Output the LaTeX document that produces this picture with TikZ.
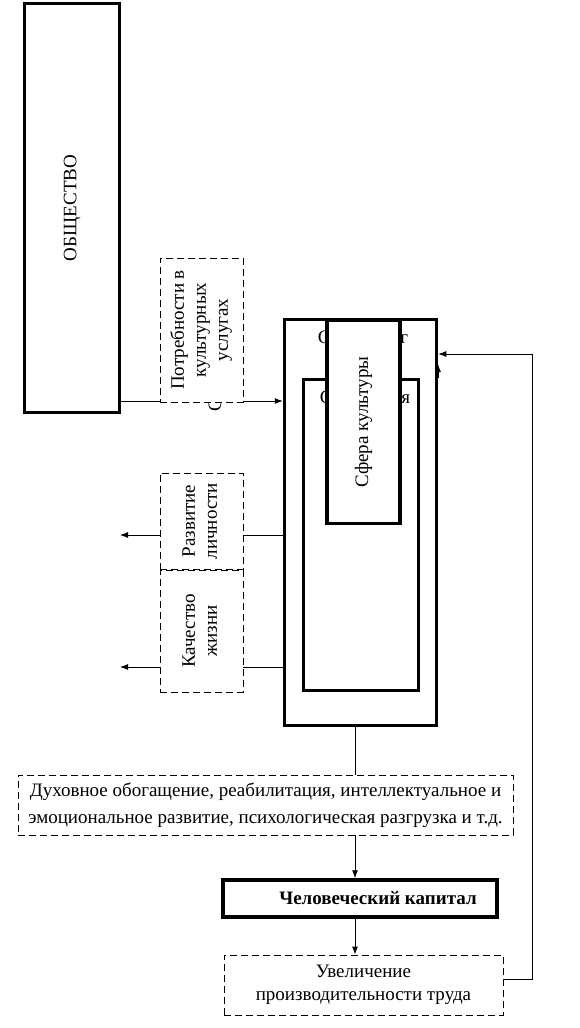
\documentclass[tikz,border=0pt]{standalone}
\usepackage{fontspec}
\setmainfont{Liberation Serif}
\usetikzlibrary{arrows.meta, positioning}

\begin{document}
\begin{tikzpicture}[x=1pt, y=-1pt, >={Latex[length=8pt,width=6pt]}, font=\fontsize{19}{22}\selectfont]

\tikzstyle{thickbox} = [rectangle, draw, line width=3.5pt, fill=white, inner sep=0pt]
\tikzstyle{dashbox} = [rectangle, draw, dash pattern=on 7pt off 4pt, line width=0.9pt, fill=white, inner sep=0pt]
\tikzstyle{line} = [line width=0.9pt]

\useasboundingbox (0,0) rectangle (580,1028);

% Nodes
\node[thickbox, minimum width=95, minimum height=409] (society) at (72,208) {\rotatebox{90}{ОБЩЕСТВО}};

\node[thickbox, minimum width=152, minimum height=406] (services) at (360.5,522.5) {};
\node (serviceslabel) at (363,337) {С\hspace{70pt}г};
\node[thickbox, minimum width=115, minimum height=311] (leisure) at (361,535) {};
\node (leisurelabel) at (365,397) {С\hspace{69pt}я};
\node[thickbox, minimum width=73, minimum height=203] (culture) at (363.5,422) {\rotatebox{90}{Сфера культуры}};

\node[rotate=90, inner sep=0pt] (frag) at (215,405) {С};

% Connections (society -> services)
\coordinate (iny) at (0,401);
\draw[line, ->] (society.east |- iny) -- (services.west |- iny);

\node[dashbox, minimum width=83, minimum height=144] (needs) at (201.5,330)
  {\rotatebox{90}{\begin{tabular}{@{}c@{}}Потребности в\\культурных\\услугах\end{tabular}}};

\node[dashbox, minimum width=83, minimum height=122] (quality) at (201.5,631)
  {\rotatebox{90}{\begin{tabular}{@{}c@{}}Качество\\жизни\end{tabular}}};
\node[dashbox, minimum width=83, minimum height=96, above=0pt of quality] (personality)
  {\rotatebox{90}{\begin{tabular}{@{}c@{}}Развитие\\личности\end{tabular}}};

\node[dashbox, minimum width=495, minimum height=60, align=center, font=\fontsize{19}{27}\selectfont] (spirit) at (265.5,805)
  {Духовное обогащение, реабилитация, интеллектуальное и\\эмоциональное развитие, психологическая разгрузка и т.д.};
\node[thickbox, minimum width=274, minimum height=37, font=\fontsize{19}{22}\selectfont\bfseries] (capital) at (360,898.5)
  {\hspace*{36pt}Человеческий капитал};
\node[dashbox, minimum width=279, minimum height=60, align=center, font=\fontsize{19}{23}\selectfont] (productivity) at (363.5,985)
  {Увеличение\\производительности труда};

% Connections
\coordinate (outa) at (120,535);
\coordinate (outb) at (120,667);
\draw[line] (services.west |- outa) -- (personality.east |- outa);
\draw[line, ->] (personality.west |- outa) -- (outa);
\draw[line] (services.west |- outb) -- (quality.east |- outb);
\draw[line, ->] (quality.west |- outb) -- (outb);

\coordinate (axis) at (355,0);
\draw[line] (services.south -| axis) -- (spirit.north -| axis);
\draw[line, ->] (spirit.south -| axis) -- (capital.north -| axis);
\draw[line, ->] (capital.south -| axis) -- (productivity.north -| axis);

\coordinate (back) at (532,354);
\draw[line, ->] ([yshift=6pt]productivity.east) -| (back) -- (services.east |- back);
\coordinate (upa) at (438,378);
\coordinate (upb) at (438,364);
\draw[line, ->] (upa) -- (upb);

\end{tikzpicture}
\end{document}
